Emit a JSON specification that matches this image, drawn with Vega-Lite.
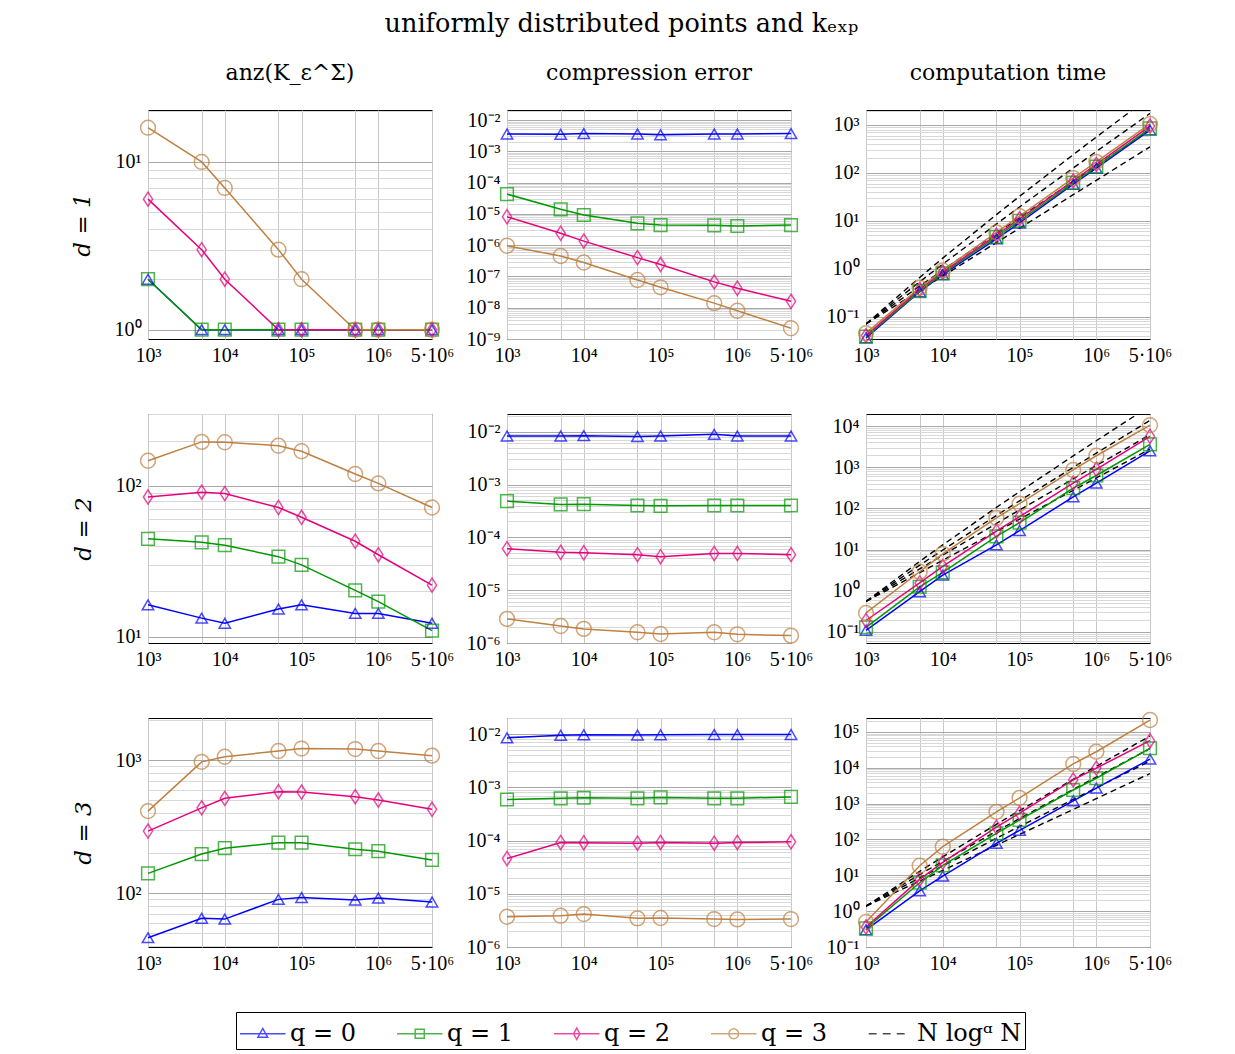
{
"$schema":"https://vega.github.io/schema/vega-lite/v6.json",
"padding":{"left":70,"top":12,"right":10,"bottom":5},
"title":{"text":"uniformly distributed points and kₑₓₚ","font":"DejaVu Serif","fontSize":25.5,"fontWeight":"normal","anchor":"middle","offset":24,"color":"black"},
"datasets":{"main":[
{"d":1,"m":"a","q":0,"N":1000,"v":2},{"d":1,"m":"a","q":0,"N":5000,"v":1},{"d":1,"m":"a","q":0,"N":10000,"v":1},{"d":1,"m":"a","q":0,"N":50000,"v":1},{"d":1,"m":"a","q":0,"N":100000,"v":1},{"d":1,"m":"a","q":0,"N":500000,"v":1},{"d":1,"m":"a","q":0,"N":1000000,"v":1},{"d":1,"m":"a","q":0,"N":5000000,"v":1},
{"d":1,"m":"a","q":1,"N":1000,"v":2},{"d":1,"m":"a","q":1,"N":5000,"v":1},{"d":1,"m":"a","q":1,"N":10000,"v":1},{"d":1,"m":"a","q":1,"N":50000,"v":1},{"d":1,"m":"a","q":1,"N":100000,"v":1},{"d":1,"m":"a","q":1,"N":500000,"v":1},{"d":1,"m":"a","q":1,"N":1000000,"v":1},{"d":1,"m":"a","q":1,"N":5000000,"v":1},
{"d":1,"m":"a","q":2,"N":1000,"v":6},{"d":1,"m":"a","q":2,"N":5000,"v":3},{"d":1,"m":"a","q":2,"N":10000,"v":2},{"d":1,"m":"a","q":2,"N":50000,"v":1},{"d":1,"m":"a","q":2,"N":100000,"v":1},{"d":1,"m":"a","q":2,"N":500000,"v":1},{"d":1,"m":"a","q":2,"N":1000000,"v":1},{"d":1,"m":"a","q":2,"N":5000000,"v":1},
{"d":1,"m":"a","q":3,"N":1000,"v":16},{"d":1,"m":"a","q":3,"N":5000,"v":10},{"d":1,"m":"a","q":3,"N":10000,"v":7},{"d":1,"m":"a","q":3,"N":50000,"v":3},{"d":1,"m":"a","q":3,"N":100000,"v":2},{"d":1,"m":"a","q":3,"N":500000,"v":1},{"d":1,"m":"a","q":3,"N":1000000,"v":1},{"d":1,"m":"a","q":3,"N":5000000,"v":1},
{"d":1,"m":"e","q":0,"N":1000,"v":3.6e-3},{"d":1,"m":"e","q":0,"N":5000,"v":3.5e-3},{"d":1,"m":"e","q":0,"N":10000,"v":3.7e-3},{"d":1,"m":"e","q":0,"N":50000,"v":3.6e-3},{"d":1,"m":"e","q":0,"N":100000,"v":3.4e-3},{"d":1,"m":"e","q":0,"N":500000,"v":3.6e-3},{"d":1,"m":"e","q":0,"N":1000000,"v":3.6e-3},{"d":1,"m":"e","q":0,"N":5000000,"v":3.7e-3},
{"d":1,"m":"e","q":1,"N":1000,"v":4.3e-5},{"d":1,"m":"e","q":1,"N":5000,"v":1.4e-5},{"d":1,"m":"e","q":1,"N":10000,"v":9.2e-6},{"d":1,"m":"e","q":1,"N":50000,"v":5.0e-6},{"d":1,"m":"e","q":1,"N":100000,"v":4.4e-6},{"d":1,"m":"e","q":1,"N":500000,"v":4.3e-6},{"d":1,"m":"e","q":1,"N":1000000,"v":4.1e-6},{"d":1,"m":"e","q":1,"N":5000000,"v":4.4e-6},
{"d":1,"m":"e","q":2,"N":1000,"v":8.1e-6},{"d":1,"m":"e","q":2,"N":5000,"v":2.4e-6},{"d":1,"m":"e","q":2,"N":10000,"v":1.35e-6},{"d":1,"m":"e","q":2,"N":50000,"v":4.0e-7},{"d":1,"m":"e","q":2,"N":100000,"v":2.4e-7},{"d":1,"m":"e","q":2,"N":500000,"v":6.7e-8},{"d":1,"m":"e","q":2,"N":1000000,"v":4.2e-8},{"d":1,"m":"e","q":2,"N":5000000,"v":1.6e-8},
{"d":1,"m":"e","q":3,"N":1000,"v":9.6e-7},{"d":1,"m":"e","q":3,"N":5000,"v":4.5e-7},{"d":1,"m":"e","q":3,"N":10000,"v":2.8e-7},{"d":1,"m":"e","q":3,"N":50000,"v":7.7e-8},{"d":1,"m":"e","q":3,"N":100000,"v":4.5e-8},{"d":1,"m":"e","q":3,"N":500000,"v":1.4e-8},{"d":1,"m":"e","q":3,"N":1000000,"v":8e-9},{"d":1,"m":"e","q":3,"N":5000000,"v":2.2e-9},
{"d":1,"m":"t","q":0,"N":1000,"v":0.036},{"d":1,"m":"t","q":0,"N":5000,"v":0.33},{"d":1,"m":"t","q":0,"N":10000,"v":0.75},{"d":1,"m":"t","q":0,"N":50000,"v":4.2},{"d":1,"m":"t","q":0,"N":100000,"v":9.0},{"d":1,"m":"t","q":0,"N":500000,"v":58},{"d":1,"m":"t","q":0,"N":1000000,"v":125},{"d":1,"m":"t","q":0,"N":5000000,"v":780},
{"d":1,"m":"t","q":1,"N":1000,"v":0.038},{"d":1,"m":"t","q":1,"N":5000,"v":0.34},{"d":1,"m":"t","q":1,"N":10000,"v":0.80},{"d":1,"m":"t","q":1,"N":50000,"v":4.6},{"d":1,"m":"t","q":1,"N":100000,"v":10},{"d":1,"m":"t","q":1,"N":500000,"v":62},{"d":1,"m":"t","q":1,"N":1000000,"v":135},{"d":1,"m":"t","q":1,"N":5000000,"v":850},
{"d":1,"m":"t","q":2,"N":1000,"v":0.040},{"d":1,"m":"t","q":2,"N":5000,"v":0.37},{"d":1,"m":"t","q":2,"N":10000,"v":0.85},{"d":1,"m":"t","q":2,"N":50000,"v":5.0},{"d":1,"m":"t","q":2,"N":100000,"v":11},{"d":1,"m":"t","q":2,"N":500000,"v":68},{"d":1,"m":"t","q":2,"N":1000000,"v":150},{"d":1,"m":"t","q":2,"N":5000000,"v":950},
{"d":1,"m":"t","q":3,"N":1000,"v":0.045},{"d":1,"m":"t","q":3,"N":5000,"v":0.40},{"d":1,"m":"t","q":3,"N":10000,"v":0.92},{"d":1,"m":"t","q":3,"N":50000,"v":5.7},{"d":1,"m":"t","q":3,"N":100000,"v":12.5},{"d":1,"m":"t","q":3,"N":500000,"v":78},{"d":1,"m":"t","q":3,"N":1000000,"v":170},{"d":1,"m":"t","q":3,"N":5000000,"v":1050},
{"d":1,"m":"t","q":4,"a":0,"N":1000,"v":0.07},{"d":1,"m":"t","q":4,"a":0,"N":5000,"v":0.35},{"d":1,"m":"t","q":4,"a":0,"N":10000,"v":0.7},{"d":1,"m":"t","q":4,"a":0,"N":50000,"v":3.5},{"d":1,"m":"t","q":4,"a":0,"N":100000,"v":7},{"d":1,"m":"t","q":4,"a":0,"N":500000,"v":35},{"d":1,"m":"t","q":4,"a":0,"N":1000000,"v":70},{"d":1,"m":"t","q":4,"a":0,"N":5000000,"v":350},
{"d":1,"m":"t","q":4,"a":1,"N":1000,"v":0.07},{"d":1,"m":"t","q":4,"a":1,"N":5000,"v":0.4316},{"d":1,"m":"t","q":4,"a":1,"N":10000,"v":0.9333},{"d":1,"m":"t","q":4,"a":1,"N":50000,"v":5.482},{"d":1,"m":"t","q":4,"a":1,"N":100000,"v":11.667},{"d":1,"m":"t","q":4,"a":1,"N":500000,"v":66.49},{"d":1,"m":"t","q":4,"a":1,"N":1000000,"v":140},{"d":1,"m":"t","q":4,"a":1,"N":5000000,"v":781.5},
{"d":1,"m":"t","q":4,"a":2,"N":1000,"v":0.07},{"d":1,"m":"t","q":4,"a":2,"N":5000,"v":0.5321},{"d":1,"m":"t","q":4,"a":2,"N":10000,"v":1.2444},{"d":1,"m":"t","q":4,"a":2,"N":50000,"v":8.586},{"d":1,"m":"t","q":4,"a":2,"N":100000,"v":19.444},{"d":1,"m":"t","q":4,"a":2,"N":500000,"v":126.3},{"d":1,"m":"t","q":4,"a":2,"N":1000000,"v":280},{"d":1,"m":"t","q":4,"a":2,"N":5000000,"v":1745},
{"d":1,"m":"t","q":4,"a":3,"N":1000,"v":0.07},{"d":1,"m":"t","q":4,"a":3,"N":5000,"v":0.6561},{"d":1,"m":"t","q":4,"a":3,"N":10000,"v":1.6593},{"d":1,"m":"t","q":4,"a":3,"N":50000,"v":13.449},{"d":1,"m":"t","q":4,"a":3,"N":100000,"v":32.407},{"d":1,"m":"t","q":4,"a":3,"N":500000,"v":240.0},{"d":1,"m":"t","q":4,"a":3,"N":1000000,"v":560},{"d":1,"m":"t","q":4,"a":3,"N":5000000,"v":3897},
{"d":2,"m":"a","q":0,"N":1000,"v":16.3},{"d":2,"m":"a","q":0,"N":5000,"v":13.3},{"d":2,"m":"a","q":0,"N":10000,"v":12.3},{"d":2,"m":"a","q":0,"N":50000,"v":15.3},{"d":2,"m":"a","q":0,"N":100000,"v":16.3},{"d":2,"m":"a","q":0,"N":500000,"v":14.3},{"d":2,"m":"a","q":0,"N":1000000,"v":14.3},{"d":2,"m":"a","q":0,"N":5000000,"v":12.3},
{"d":2,"m":"a","q":1,"N":1000,"v":44.6},{"d":2,"m":"a","q":1,"N":5000,"v":42.3},{"d":2,"m":"a","q":1,"N":10000,"v":40.5},{"d":2,"m":"a","q":1,"N":50000,"v":34},{"d":2,"m":"a","q":1,"N":100000,"v":30},{"d":2,"m":"a","q":1,"N":500000,"v":20.3},{"d":2,"m":"a","q":1,"N":1000000,"v":17.1},{"d":2,"m":"a","q":1,"N":5000000,"v":11},
{"d":2,"m":"a","q":2,"N":1000,"v":84.5},{"d":2,"m":"a","q":2,"N":5000,"v":91},{"d":2,"m":"a","q":2,"N":10000,"v":89},{"d":2,"m":"a","q":2,"N":50000,"v":72},{"d":2,"m":"a","q":2,"N":100000,"v":62},{"d":2,"m":"a","q":2,"N":500000,"v":43},{"d":2,"m":"a","q":2,"N":1000000,"v":35},{"d":2,"m":"a","q":2,"N":5000000,"v":22},
{"d":2,"m":"a","q":3,"N":1000,"v":147},{"d":2,"m":"a","q":3,"N":5000,"v":196},{"d":2,"m":"a","q":3,"N":10000,"v":195},{"d":2,"m":"a","q":3,"N":50000,"v":185},{"d":2,"m":"a","q":3,"N":100000,"v":170},{"d":2,"m":"a","q":3,"N":500000,"v":120},{"d":2,"m":"a","q":3,"N":1000000,"v":104},{"d":2,"m":"a","q":3,"N":5000000,"v":72},
{"d":2,"m":"e","q":0,"N":1000,"v":8.3e-3},{"d":2,"m":"e","q":0,"N":5000,"v":8.3e-3},{"d":2,"m":"e","q":0,"N":10000,"v":8.4e-3},{"d":2,"m":"e","q":0,"N":50000,"v":8.1e-3},{"d":2,"m":"e","q":0,"N":100000,"v":8.3e-3},{"d":2,"m":"e","q":0,"N":500000,"v":8.9e-3},{"d":2,"m":"e","q":0,"N":1000000,"v":8.3e-3},{"d":2,"m":"e","q":0,"N":5000000,"v":8.3e-3},
{"d":2,"m":"e","q":1,"N":1000,"v":4.85e-4},{"d":2,"m":"e","q":1,"N":5000,"v":4.2e-4},{"d":2,"m":"e","q":1,"N":10000,"v":4.25e-4},{"d":2,"m":"e","q":1,"N":50000,"v":4.0e-4},{"d":2,"m":"e","q":1,"N":100000,"v":3.95e-4},{"d":2,"m":"e","q":1,"N":500000,"v":4.0e-4},{"d":2,"m":"e","q":1,"N":1000000,"v":4.0e-4},{"d":2,"m":"e","q":1,"N":5000000,"v":4.0e-4},
{"d":2,"m":"e","q":2,"N":1000,"v":6.1e-5},{"d":2,"m":"e","q":2,"N":5000,"v":5.2e-5},{"d":2,"m":"e","q":2,"N":10000,"v":5.1e-5},{"d":2,"m":"e","q":2,"N":50000,"v":4.7e-5},{"d":2,"m":"e","q":2,"N":100000,"v":4.3e-5},{"d":2,"m":"e","q":2,"N":500000,"v":4.95e-5},{"d":2,"m":"e","q":2,"N":1000000,"v":4.95e-5},{"d":2,"m":"e","q":2,"N":5000000,"v":4.7e-5},
{"d":2,"m":"e","q":3,"N":1000,"v":2.86e-6},{"d":2,"m":"e","q":3,"N":5000,"v":2.1e-6},{"d":2,"m":"e","q":3,"N":10000,"v":1.85e-6},{"d":2,"m":"e","q":3,"N":50000,"v":1.6e-6},{"d":2,"m":"e","q":3,"N":100000,"v":1.48e-6},{"d":2,"m":"e","q":3,"N":500000,"v":1.6e-6},{"d":2,"m":"e","q":3,"N":1000000,"v":1.46e-6},{"d":2,"m":"e","q":3,"N":5000000,"v":1.38e-6},
{"d":2,"m":"t","q":0,"N":1000,"v":0.11},{"d":2,"m":"t","q":0,"N":5000,"v":0.95},{"d":2,"m":"t","q":0,"N":10000,"v":2.4},{"d":2,"m":"t","q":0,"N":50000,"v":13},{"d":2,"m":"t","q":0,"N":100000,"v":29},{"d":2,"m":"t","q":0,"N":500000,"v":190},{"d":2,"m":"t","q":0,"N":1000000,"v":410},{"d":2,"m":"t","q":0,"N":5000000,"v":2500},
{"d":2,"m":"t","q":1,"N":1000,"v":0.13},{"d":2,"m":"t","q":1,"N":5000,"v":1.25},{"d":2,"m":"t","q":1,"N":10000,"v":2.8},{"d":2,"m":"t","q":1,"N":50000,"v":21},{"d":2,"m":"t","q":1,"N":100000,"v":45},{"d":2,"m":"t","q":1,"N":500000,"v":310},{"d":2,"m":"t","q":1,"N":1000000,"v":630},{"d":2,"m":"t","q":1,"N":5000000,"v":3600},
{"d":2,"m":"t","q":2,"N":1000,"v":0.19},{"d":2,"m":"t","q":2,"N":5000,"v":1.55},{"d":2,"m":"t","q":2,"N":10000,"v":3.9},{"d":2,"m":"t","q":2,"N":50000,"v":28},{"d":2,"m":"t","q":2,"N":100000,"v":63},{"d":2,"m":"t","q":2,"N":500000,"v":410},{"d":2,"m":"t","q":2,"N":1000000,"v":890},{"d":2,"m":"t","q":2,"N":5000000,"v":5600},
{"d":2,"m":"t","q":3,"N":1000,"v":0.29},{"d":2,"m":"t","q":3,"N":5000,"v":2.9},{"d":2,"m":"t","q":3,"N":10000,"v":7.9},{"d":2,"m":"t","q":3,"N":50000,"v":59},{"d":2,"m":"t","q":3,"N":100000,"v":130},{"d":2,"m":"t","q":3,"N":500000,"v":860},{"d":2,"m":"t","q":3,"N":1000000,"v":1900},{"d":2,"m":"t","q":3,"N":5000000,"v":10500},
{"d":2,"m":"t","q":4,"a":0,"N":1000,"v":0.55},{"d":2,"m":"t","q":4,"a":0,"N":5000,"v":2.75},{"d":2,"m":"t","q":4,"a":0,"N":10000,"v":5.5},{"d":2,"m":"t","q":4,"a":0,"N":50000,"v":27.5},{"d":2,"m":"t","q":4,"a":0,"N":100000,"v":55},{"d":2,"m":"t","q":4,"a":0,"N":500000,"v":275},{"d":2,"m":"t","q":4,"a":0,"N":1000000,"v":550},{"d":2,"m":"t","q":4,"a":0,"N":5000000,"v":2750},
{"d":2,"m":"t","q":4,"a":1,"N":1000,"v":0.55},{"d":2,"m":"t","q":4,"a":1,"N":5000,"v":3.391},{"d":2,"m":"t","q":4,"a":1,"N":10000,"v":7.333},{"d":2,"m":"t","q":4,"a":1,"N":50000,"v":43.07},{"d":2,"m":"t","q":4,"a":1,"N":100000,"v":91.67},{"d":2,"m":"t","q":4,"a":1,"N":500000,"v":522.4},{"d":2,"m":"t","q":4,"a":1,"N":1000000,"v":1100},{"d":2,"m":"t","q":4,"a":1,"N":5000000,"v":6141},
{"d":2,"m":"t","q":4,"a":2,"N":1000,"v":0.55},{"d":2,"m":"t","q":4,"a":2,"N":5000,"v":4.181},{"d":2,"m":"t","q":4,"a":2,"N":10000,"v":9.778},{"d":2,"m":"t","q":4,"a":2,"N":50000,"v":67.46},{"d":2,"m":"t","q":4,"a":2,"N":100000,"v":152.8},{"d":2,"m":"t","q":4,"a":2,"N":500000,"v":992.4},{"d":2,"m":"t","q":4,"a":2,"N":1000000,"v":2200},{"d":2,"m":"t","q":4,"a":2,"N":5000000,"v":13712},
{"d":2,"m":"t","q":4,"a":3,"N":1000,"v":0.55},{"d":2,"m":"t","q":4,"a":3,"N":5000,"v":5.155},{"d":2,"m":"t","q":4,"a":3,"N":10000,"v":13.037},{"d":2,"m":"t","q":4,"a":3,"N":50000,"v":105.67},{"d":2,"m":"t","q":4,"a":3,"N":100000,"v":254.6},{"d":2,"m":"t","q":4,"a":3,"N":500000,"v":1885},{"d":2,"m":"t","q":4,"a":3,"N":1000000,"v":4400},{"d":2,"m":"t","q":4,"a":3,"N":5000000,"v":30620},
{"d":3,"m":"a","q":0,"N":1000,"v":46.4},{"d":3,"m":"a","q":0,"N":5000,"v":65},{"d":3,"m":"a","q":0,"N":10000,"v":64},{"d":3,"m":"a","q":0,"N":50000,"v":90},{"d":3,"m":"a","q":0,"N":100000,"v":93},{"d":3,"m":"a","q":0,"N":500000,"v":89},{"d":3,"m":"a","q":0,"N":1000000,"v":92},{"d":3,"m":"a","q":0,"N":5000000,"v":86},
{"d":3,"m":"a","q":1,"N":1000,"v":141},{"d":3,"m":"a","q":1,"N":5000,"v":197},{"d":3,"m":"a","q":1,"N":10000,"v":218},{"d":3,"m":"a","q":1,"N":50000,"v":240},{"d":3,"m":"a","q":1,"N":100000,"v":240},{"d":3,"m":"a","q":1,"N":500000,"v":214},{"d":3,"m":"a","q":1,"N":1000000,"v":207},{"d":3,"m":"a","q":1,"N":5000000,"v":178},
{"d":3,"m":"a","q":2,"N":1000,"v":293},{"d":3,"m":"a","q":2,"N":5000,"v":438},{"d":3,"m":"a","q":2,"N":10000,"v":516},{"d":3,"m":"a","q":2,"N":50000,"v":579},{"d":3,"m":"a","q":2,"N":100000,"v":575},{"d":3,"m":"a","q":2,"N":500000,"v":531},{"d":3,"m":"a","q":2,"N":1000000,"v":501},{"d":3,"m":"a","q":2,"N":5000000,"v":427},
{"d":3,"m":"a","q":3,"N":1000,"v":414},{"d":3,"m":"a","q":3,"N":5000,"v":970},{"d":3,"m":"a","q":3,"N":10000,"v":1060},{"d":3,"m":"a","q":3,"N":50000,"v":1170},{"d":3,"m":"a","q":3,"N":100000,"v":1220},{"d":3,"m":"a","q":3,"N":500000,"v":1210},{"d":3,"m":"a","q":3,"N":1000000,"v":1170},{"d":3,"m":"a","q":3,"N":5000000,"v":1080},
{"d":3,"m":"e","q":0,"N":1000,"v":8.45e-3},{"d":3,"m":"e","q":0,"N":5000,"v":9.5e-3},{"d":3,"m":"e","q":0,"N":10000,"v":9.7e-3},{"d":3,"m":"e","q":0,"N":50000,"v":9.6e-3},{"d":3,"m":"e","q":0,"N":100000,"v":9.7e-3},{"d":3,"m":"e","q":0,"N":500000,"v":9.8e-3},{"d":3,"m":"e","q":0,"N":1000000,"v":9.8e-3},{"d":3,"m":"e","q":0,"N":5000000,"v":9.8e-3},
{"d":3,"m":"e","q":1,"N":1000,"v":5.9e-4},{"d":3,"m":"e","q":1,"N":5000,"v":6.2e-4},{"d":3,"m":"e","q":1,"N":10000,"v":6.35e-4},{"d":3,"m":"e","q":1,"N":50000,"v":6.2e-4},{"d":3,"m":"e","q":1,"N":100000,"v":6.45e-4},{"d":3,"m":"e","q":1,"N":500000,"v":6.2e-4},{"d":3,"m":"e","q":1,"N":1000000,"v":6.2e-4},{"d":3,"m":"e","q":1,"N":5000000,"v":6.6e-4},
{"d":3,"m":"e","q":2,"N":1000,"v":4.6e-5},{"d":3,"m":"e","q":2,"N":5000,"v":9.2e-5},{"d":3,"m":"e","q":2,"N":10000,"v":9.1e-5},{"d":3,"m":"e","q":2,"N":50000,"v":8.9e-5},{"d":3,"m":"e","q":2,"N":100000,"v":9.2e-5},{"d":3,"m":"e","q":2,"N":500000,"v":8.9e-5},{"d":3,"m":"e","q":2,"N":1000000,"v":9.2e-5},{"d":3,"m":"e","q":2,"N":5000000,"v":9.45e-5},
{"d":3,"m":"e","q":3,"N":1000,"v":3.7e-6},{"d":3,"m":"e","q":3,"N":5000,"v":3.87e-6},{"d":3,"m":"e","q":3,"N":10000,"v":4.15e-6},{"d":3,"m":"e","q":3,"N":50000,"v":3.45e-6},{"d":3,"m":"e","q":3,"N":100000,"v":3.5e-6},{"d":3,"m":"e","q":3,"N":500000,"v":3.35e-6},{"d":3,"m":"e","q":3,"N":1000000,"v":3.3e-6},{"d":3,"m":"e","q":3,"N":5000000,"v":3.35e-6},
{"d":3,"m":"t","q":0,"N":1000,"v":0.30},{"d":3,"m":"t","q":0,"N":5000,"v":3.7},{"d":3,"m":"t","q":0,"N":10000,"v":9.5},{"d":3,"m":"t","q":0,"N":50000,"v":78},{"d":3,"m":"t","q":0,"N":100000,"v":180},{"d":3,"m":"t","q":0,"N":500000,"v":1200},{"d":3,"m":"t","q":0,"N":1000000,"v":2700},{"d":3,"m":"t","q":0,"N":5000000,"v":17500},
{"d":3,"m":"t","q":1,"N":1000,"v":0.33},{"d":3,"m":"t","q":1,"N":5000,"v":6.2},{"d":3,"m":"t","q":1,"N":10000,"v":19},{"d":3,"m":"t","q":1,"N":50000,"v":148},{"d":3,"m":"t","q":1,"N":100000,"v":350},{"d":3,"m":"t","q":1,"N":500000,"v":2400},{"d":3,"m":"t","q":1,"N":1000000,"v":5100},{"d":3,"m":"t","q":1,"N":5000000,"v":35000},
{"d":3,"m":"t","q":2,"N":1000,"v":0.36},{"d":3,"m":"t","q":2,"N":5000,"v":7.7},{"d":3,"m":"t","q":2,"N":10000,"v":23},{"d":3,"m":"t","q":2,"N":50000,"v":220},{"d":3,"m":"t","q":2,"N":100000,"v":540},{"d":3,"m":"t","q":2,"N":500000,"v":4600},{"d":3,"m":"t","q":2,"N":1000000,"v":9800},{"d":3,"m":"t","q":2,"N":5000000,"v":57000},
{"d":3,"m":"t","q":3,"N":1000,"v":0.50},{"d":3,"m":"t","q":3,"N":5000,"v":18.5},{"d":3,"m":"t","q":3,"N":10000,"v":63},{"d":3,"m":"t","q":3,"N":50000,"v":590},{"d":3,"m":"t","q":3,"N":100000,"v":1450},{"d":3,"m":"t","q":3,"N":500000,"v":12800},{"d":3,"m":"t","q":3,"N":1000000,"v":28000},{"d":3,"m":"t","q":3,"N":5000000,"v":215000},
{"d":3,"m":"t","q":4,"a":0,"N":1000,"v":1.38},{"d":3,"m":"t","q":4,"a":0,"N":5000,"v":6.9},{"d":3,"m":"t","q":4,"a":0,"N":10000,"v":13.8},{"d":3,"m":"t","q":4,"a":0,"N":50000,"v":69},{"d":3,"m":"t","q":4,"a":0,"N":100000,"v":138},{"d":3,"m":"t","q":4,"a":0,"N":500000,"v":690},{"d":3,"m":"t","q":4,"a":0,"N":1000000,"v":1380},{"d":3,"m":"t","q":4,"a":0,"N":5000000,"v":6900},
{"d":3,"m":"t","q":4,"a":1,"N":1000,"v":1.38},{"d":3,"m":"t","q":4,"a":1,"N":5000,"v":8.508},{"d":3,"m":"t","q":4,"a":1,"N":10000,"v":18.4},{"d":3,"m":"t","q":4,"a":1,"N":50000,"v":108.1},{"d":3,"m":"t","q":4,"a":1,"N":100000,"v":230},{"d":3,"m":"t","q":4,"a":1,"N":500000,"v":1310.8},{"d":3,"m":"t","q":4,"a":1,"N":1000000,"v":2760},{"d":3,"m":"t","q":4,"a":1,"N":5000000,"v":15408},
{"d":3,"m":"t","q":4,"a":2,"N":1000,"v":1.38},{"d":3,"m":"t","q":4,"a":2,"N":5000,"v":10.49},{"d":3,"m":"t","q":4,"a":2,"N":10000,"v":24.53},{"d":3,"m":"t","q":4,"a":2,"N":50000,"v":169.3},{"d":3,"m":"t","q":4,"a":2,"N":100000,"v":383.3},{"d":3,"m":"t","q":4,"a":2,"N":500000,"v":2490},{"d":3,"m":"t","q":4,"a":2,"N":1000000,"v":5520},{"d":3,"m":"t","q":4,"a":2,"N":5000000,"v":34405},
{"d":3,"m":"t","q":4,"a":3,"N":1000,"v":1.38},{"d":3,"m":"t","q":4,"a":3,"N":5000,"v":12.93},{"d":3,"m":"t","q":4,"a":3,"N":10000,"v":32.71},{"d":3,"m":"t","q":4,"a":3,"N":50000,"v":265.1},{"d":3,"m":"t","q":4,"a":3,"N":100000,"v":638.9},{"d":3,"m":"t","q":4,"a":3,"N":500000,"v":4731},{"d":3,"m":"t","q":4,"a":3,"N":1000000,"v":11040},{"d":3,"m":"t","q":4,"a":3,"N":5000000,"v":76827}
]},
"columns":3,
"spacing":{"row":75,"column":75},
"bounds":"flush",
"concat":[
{"width":284,"height":229,"title":{"text":"anz(K_ε^Σ)"},
 "data":{"name":"main"},"transform":[{"filter":"datum.d==1 && datum.m=='a'"}],
 "encoding":{"x":{"field":"N","type":"quantitative","scale":{"type":"log","domain":[1000,5000000],"nice":false},"axis":{"values":[1000,5000,10000,50000,100000,500000,1000000,5000000],"labelExpr":"datum.value == 5000000 ? '5·10⁶' : datum.value == 1000 ? '10³' : datum.value == 10000 ? '10⁴' : datum.value == 100000 ? '10⁵' : datum.value == 1000000 ? '10⁶' : ''","grid":true,"labelOverlap":false,"labelFlush":false,"labelPadding":6,"title":null}},
  "y":{"field":"v","type":"quantitative","scale":{"type":"log","domain":[0.88,20.4],"nice":false},"axis":null},
  "color":{"field":"q","type":"nominal","scale":{"domain":[0,1,2,3,4]}}},
 "layer":[
  {"transform":[{"filter":"false"}],"mark":{"type":"point","filled":false,"size":1225,"strokeWidth":1.5},
   "encoding":{"color":{"field":"q","type":"nominal","scale":{"domain":[0,1,2,3,4]},"legend":{"title":null,"orient":"none","legendX":88,"legendY":902,"direction":"horizontal","columns":5,"symbolSize":1225,"symbolStrokeWidth":1.5,"labelFont":"DejaVu Serif","labelFontSize":24,"labelOffset":14,"columnPadding":38,"padding":3,"strokeColor":"black","fillColor":"white","labelColor":"black","labelExpr":"datum.value == 4 ? 'N logᵅ N' : 'q = ' + datum.value"}},
    "shape":{"field":"q","type":"nominal","scale":{"domain":[0,1,2,3,4],"range":["M-1,0H1.6M0.02,0.2L0.3,-0.3L0.58,0.2Z","M-1,0H1.6M0.04,-0.26H0.56V0.26H0.04Z","M-1,0H1.6M0.3,-0.32L0.48,0L0.3,0.32L0.12,0Z","M-1,0H1.6M0.58,0A0.28,0.28,0,1,1,0.02,0A0.28,0.28,0,1,1,0.58,0Z","M-0.9,0H-0.45M-0.1,0H0.35M0.7,0H1.15"]},"legend":{"title":null,"orient":"none","legendX":88,"legendY":902,"direction":"horizontal","columns":5,"symbolSize":1225,"symbolStrokeWidth":1.5,"labelFont":"DejaVu Serif","labelFontSize":24,"labelOffset":14,"columnPadding":38,"padding":3,"strokeColor":"black","fillColor":"white","labelColor":"black","labelExpr":"datum.value == 4 ? 'N logᵅ N' : 'q = ' + datum.value"}}}},
  {"transform":[{"filter":"datum.q<4"}],"mark":{"type":"line","strokeWidth":1.5},
   "encoding":{"y":{"field":"v","type":"quantitative","scale":{"type":"log","domain":[0.88,20.4],"nice":false},"axis":{"orient":"left","values":[1,10],"labelExpr":"'10' + ['⁻⁹','⁻⁸','⁻⁷','⁻⁶','⁻⁵','⁻⁴','⁻³','⁻²','⁻¹','⁰','¹','²','³','⁴','⁵'][round(log(datum.value)/LN10)+9]","grid":true,"gridColor":"#a8a8a8","labelPadding":7,"title":"d = 1"}}}},
  {"transform":[{"filter":"datum.q==0"}],"mark":{"type":"point","shape":"triangle-up","filled":false,"size":130,"strokeWidth":1.5},
   "encoding":{"y":{"field":"v","type":"quantitative","scale":{"type":"log","domain":[0.88,20.4],"nice":false},"axis":{"orient":"right","values":[2,3,4,5,6,7,8,9,20],"labels":false,"ticks":false,"domain":false,"grid":true,"gridColor":"#d8d8d8","title":null}}}},
  {"transform":[{"filter":"datum.q==1"}],"mark":{"type":"point","shape":"square","filled":false,"size":160,"strokeWidth":1.5}},
  {"transform":[{"filter":"datum.q==2"}],"mark":{"type":"point","shape":"M0,-1L0.65,0L0,1L-0.65,0Z","filled":false,"size":200,"strokeWidth":1.5}},
  {"transform":[{"filter":"datum.q==3"}],"mark":{"type":"point","shape":"circle","filled":false,"size":220,"strokeWidth":1.5}}
 ]},
{"width":284,"height":229,"title":{"text":"compression error"},
 "data":{"name":"main"},"transform":[{"filter":"datum.d==1 && datum.m=='e'"}],
 "encoding":{"x":{"field":"N","type":"quantitative","scale":{"type":"log","domain":[1000,5000000],"nice":false},"axis":{"values":[1000,5000,10000,50000,100000,500000,1000000,5000000],"labelExpr":"datum.value == 5000000 ? '5·10⁶' : datum.value == 1000 ? '10³' : datum.value == 10000 ? '10⁴' : datum.value == 100000 ? '10⁵' : datum.value == 1000000 ? '10⁶' : ''","grid":true,"labelOverlap":false,"labelFlush":false,"labelPadding":6,"title":null}},
  "y":{"field":"v","type":"quantitative","scale":{"type":"log","domain":[1e-9,0.021],"nice":false},"axis":null},
  "color":{"field":"q","type":"nominal","scale":{"domain":[0,1,2,3,4]}}},
 "layer":[
  {"transform":[{"filter":"datum.q<4"}],"mark":{"type":"line","strokeWidth":1.5},
   "encoding":{"y":{"field":"v","type":"quantitative","scale":{"type":"log","domain":[1e-9,0.021],"nice":false},"axis":{"orient":"left","values":[1e-9,1e-8,1e-7,1e-6,1e-5,1e-4,1e-3,1e-2],"labelExpr":"'10' + ['⁻⁹','⁻⁸','⁻⁷','⁻⁶','⁻⁵','⁻⁴','⁻³','⁻²','⁻¹','⁰','¹','²','³','⁴','⁵'][round(log(datum.value)/LN10)+9]","grid":true,"gridColor":"#a8a8a8","labelPadding":7,"title":null}}}},
  {"transform":[{"filter":"datum.q==0"}],"mark":{"type":"point","shape":"triangle-up","filled":false,"size":130,"strokeWidth":1.5},
   "encoding":{"y":{"field":"v","type":"quantitative","scale":{"type":"log","domain":[1e-9,0.021],"nice":false},"axis":{"orient":"right","values":[2e-9,3e-9,4e-9,5e-9,6e-9,7e-9,8e-9,9e-9,2e-8,3e-8,4e-8,5e-8,6e-8,7e-8,8e-8,9e-8,2e-7,3e-7,4e-7,5e-7,6e-7,7e-7,8e-7,9e-7,2e-6,3e-6,4e-6,5e-6,6e-6,7e-6,8e-6,9e-6,2e-5,3e-5,4e-5,5e-5,6e-5,7e-5,8e-5,9e-5,2e-4,3e-4,4e-4,5e-4,6e-4,7e-4,8e-4,9e-4,2e-3,3e-3,4e-3,5e-3,6e-3,7e-3,8e-3,9e-3,2e-2],"labels":false,"ticks":false,"domain":false,"grid":true,"gridColor":"#d8d8d8","title":null}}}},
  {"transform":[{"filter":"datum.q==1"}],"mark":{"type":"point","shape":"square","filled":false,"size":160,"strokeWidth":1.5}},
  {"transform":[{"filter":"datum.q==2"}],"mark":{"type":"point","shape":"M0,-1L0.65,0L0,1L-0.65,0Z","filled":false,"size":200,"strokeWidth":1.5}},
  {"transform":[{"filter":"datum.q==3"}],"mark":{"type":"point","shape":"circle","filled":false,"size":220,"strokeWidth":1.5}}
 ]},
{"width":284,"height":229,"title":{"text":"computation time"},
 "data":{"name":"main"},"transform":[{"filter":"datum.d==1 && datum.m=='t'"}],
 "encoding":{"x":{"field":"N","type":"quantitative","scale":{"type":"log","domain":[1000,5000000],"nice":false},"axis":{"values":[1000,5000,10000,50000,100000,500000,1000000,5000000],"labelExpr":"datum.value == 5000000 ? '5·10⁶' : datum.value == 1000 ? '10³' : datum.value == 10000 ? '10⁴' : datum.value == 100000 ? '10⁵' : datum.value == 1000000 ? '10⁶' : ''","grid":true,"labelOverlap":false,"labelFlush":false,"labelPadding":6,"title":null}},
  "y":{"field":"v","type":"quantitative","scale":{"type":"log","domain":[0.034,2055],"nice":false},"axis":null},
  "color":{"field":"q","type":"nominal","scale":{"domain":[0,1,2,3,4]}}},
 "layer":[
  {"transform":[{"filter":"datum.q==4"}],"mark":{"type":"line","strokeWidth":1.4,"strokeDash":[6,4],"clip":true},"encoding":{"detail":{"field":"a","type":"nominal"},"color":{"value":"black"}}},
  {"transform":[{"filter":"datum.q<4"}],"mark":{"type":"line","strokeWidth":1.5},
   "encoding":{"y":{"field":"v","type":"quantitative","scale":{"type":"log","domain":[0.034,2055],"nice":false},"axis":{"orient":"left","values":[0.1,1,10,100,1000],"labelExpr":"'10' + ['⁻⁹','⁻⁸','⁻⁷','⁻⁶','⁻⁵','⁻⁴','⁻³','⁻²','⁻¹','⁰','¹','²','³','⁴','⁵'][round(log(datum.value)/LN10)+9]","grid":true,"gridColor":"#a8a8a8","labelPadding":7,"title":null}}}},
  {"transform":[{"filter":"datum.q==0"}],"mark":{"type":"point","shape":"triangle-up","filled":false,"size":130,"strokeWidth":1.5},
   "encoding":{"y":{"field":"v","type":"quantitative","scale":{"type":"log","domain":[0.034,2055],"nice":false},"axis":{"orient":"right","values":[0.04,0.05,0.06,0.07,0.08,0.09,0.2,0.3,0.4,0.5,0.6,0.7,0.8,0.9,2,3,4,5,6,7,8,9,20,30,40,50,60,70,80,90,200,300,400,500,600,700,800,900,2000],"labels":false,"ticks":false,"domain":false,"grid":true,"gridColor":"#d8d8d8","title":null}}}},
  {"transform":[{"filter":"datum.q==1"}],"mark":{"type":"point","shape":"square","filled":false,"size":160,"strokeWidth":1.5}},
  {"transform":[{"filter":"datum.q==2"}],"mark":{"type":"point","shape":"M0,-1L0.65,0L0,1L-0.65,0Z","filled":false,"size":200,"strokeWidth":1.5}},
  {"transform":[{"filter":"datum.q==3"}],"mark":{"type":"point","shape":"circle","filled":false,"size":220,"strokeWidth":1.5}}
 ]},
{"width":284,"height":229,
 "data":{"name":"main"},"transform":[{"filter":"datum.d==2 && datum.m=='a'"}],
 "encoding":{"x":{"field":"N","type":"quantitative","scale":{"type":"log","domain":[1000,5000000],"nice":false},"axis":{"values":[1000,5000,10000,50000,100000,500000,1000000,5000000],"labelExpr":"datum.value == 5000000 ? '5·10⁶' : datum.value == 1000 ? '10³' : datum.value == 10000 ? '10⁴' : datum.value == 100000 ? '10⁵' : datum.value == 1000000 ? '10⁶' : ''","grid":true,"labelOverlap":false,"labelFlush":false,"labelPadding":6,"title":null}},
  "y":{"field":"v","type":"quantitative","scale":{"type":"log","domain":[9.1,300],"nice":false},"axis":null},
  "color":{"field":"q","type":"nominal","scale":{"domain":[0,1,2,3,4]}}},
 "layer":[
  {"transform":[{"filter":"datum.q<4"}],"mark":{"type":"line","strokeWidth":1.5},
   "encoding":{"y":{"field":"v","type":"quantitative","scale":{"type":"log","domain":[9.1,300],"nice":false},"axis":{"orient":"left","values":[10,100],"labelExpr":"'10' + ['⁻⁹','⁻⁸','⁻⁷','⁻⁶','⁻⁵','⁻⁴','⁻³','⁻²','⁻¹','⁰','¹','²','³','⁴','⁵'][round(log(datum.value)/LN10)+9]","grid":true,"gridColor":"#a8a8a8","labelPadding":7,"title":"d = 2"}}}},
  {"transform":[{"filter":"datum.q==0"}],"mark":{"type":"point","shape":"triangle-up","filled":false,"size":130,"strokeWidth":1.5},
   "encoding":{"y":{"field":"v","type":"quantitative","scale":{"type":"log","domain":[9.1,300],"nice":false},"axis":{"orient":"right","values":[20,30,40,50,60,70,80,90,200,300],"labels":false,"ticks":false,"domain":false,"grid":true,"gridColor":"#d8d8d8","title":null}}}},
  {"transform":[{"filter":"datum.q==1"}],"mark":{"type":"point","shape":"square","filled":false,"size":160,"strokeWidth":1.5}},
  {"transform":[{"filter":"datum.q==2"}],"mark":{"type":"point","shape":"M0,-1L0.65,0L0,1L-0.65,0Z","filled":false,"size":200,"strokeWidth":1.5}},
  {"transform":[{"filter":"datum.q==3"}],"mark":{"type":"point","shape":"circle","filled":false,"size":220,"strokeWidth":1.5}}
 ]},
{"width":284,"height":229,
 "data":{"name":"main"},"transform":[{"filter":"datum.d==2 && datum.m=='e'"}],
 "encoding":{"x":{"field":"N","type":"quantitative","scale":{"type":"log","domain":[1000,5000000],"nice":false},"axis":{"values":[1000,5000,10000,50000,100000,500000,1000000,5000000],"labelExpr":"datum.value == 5000000 ? '5·10⁶' : datum.value == 1000 ? '10³' : datum.value == 10000 ? '10⁴' : datum.value == 100000 ? '10⁵' : datum.value == 1000000 ? '10⁶' : ''","grid":true,"labelOverlap":false,"labelFlush":false,"labelPadding":6,"title":null}},
  "y":{"field":"v","type":"quantitative","scale":{"type":"log","domain":[1e-6,0.0216],"nice":false},"axis":null},
  "color":{"field":"q","type":"nominal","scale":{"domain":[0,1,2,3,4]}}},
 "layer":[
  {"transform":[{"filter":"datum.q<4"}],"mark":{"type":"line","strokeWidth":1.5},
   "encoding":{"y":{"field":"v","type":"quantitative","scale":{"type":"log","domain":[1e-6,0.0216],"nice":false},"axis":{"orient":"left","values":[1e-6,1e-5,1e-4,1e-3,1e-2],"labelExpr":"'10' + ['⁻⁹','⁻⁸','⁻⁷','⁻⁶','⁻⁵','⁻⁴','⁻³','⁻²','⁻¹','⁰','¹','²','³','⁴','⁵'][round(log(datum.value)/LN10)+9]","grid":true,"gridColor":"#a8a8a8","labelPadding":7,"title":null}}}},
  {"transform":[{"filter":"datum.q==0"}],"mark":{"type":"point","shape":"triangle-up","filled":false,"size":130,"strokeWidth":1.5},
   "encoding":{"y":{"field":"v","type":"quantitative","scale":{"type":"log","domain":[1e-6,0.0216],"nice":false},"axis":{"orient":"right","values":[2e-6,3e-6,4e-6,5e-6,6e-6,7e-6,8e-6,9e-6,2e-5,3e-5,4e-5,5e-5,6e-5,7e-5,8e-5,9e-5,2e-4,3e-4,4e-4,5e-4,6e-4,7e-4,8e-4,9e-4,2e-3,3e-3,4e-3,5e-3,6e-3,7e-3,8e-3,9e-3,2e-2],"labels":false,"ticks":false,"domain":false,"grid":true,"gridColor":"#d8d8d8","title":null}}}},
  {"transform":[{"filter":"datum.q==1"}],"mark":{"type":"point","shape":"square","filled":false,"size":160,"strokeWidth":1.5}},
  {"transform":[{"filter":"datum.q==2"}],"mark":{"type":"point","shape":"M0,-1L0.65,0L0,1L-0.65,0Z","filled":false,"size":200,"strokeWidth":1.5}},
  {"transform":[{"filter":"datum.q==3"}],"mark":{"type":"point","shape":"circle","filled":false,"size":220,"strokeWidth":1.5}}
 ]},
{"width":284,"height":229,
 "data":{"name":"main"},"transform":[{"filter":"datum.d==2 && datum.m=='t'"}],
 "encoding":{"x":{"field":"N","type":"quantitative","scale":{"type":"log","domain":[1000,5000000],"nice":false},"axis":{"values":[1000,5000,10000,50000,100000,500000,1000000,5000000],"labelExpr":"datum.value == 5000000 ? '5·10⁶' : datum.value == 1000 ? '10³' : datum.value == 10000 ? '10⁴' : datum.value == 100000 ? '10⁵' : datum.value == 1000000 ? '10⁶' : ''","grid":true,"labelOverlap":false,"labelFlush":false,"labelPadding":6,"title":null}},
  "y":{"field":"v","type":"quantitative","scale":{"type":"log","domain":[0.054,19600],"nice":false},"axis":null},
  "color":{"field":"q","type":"nominal","scale":{"domain":[0,1,2,3,4]}}},
 "layer":[
  {"transform":[{"filter":"datum.q==4"}],"mark":{"type":"line","strokeWidth":1.4,"strokeDash":[6,4],"clip":true},"encoding":{"detail":{"field":"a","type":"nominal"},"color":{"value":"black"}}},
  {"transform":[{"filter":"datum.q<4"}],"mark":{"type":"line","strokeWidth":1.5},
   "encoding":{"y":{"field":"v","type":"quantitative","scale":{"type":"log","domain":[0.054,19600],"nice":false},"axis":{"orient":"left","values":[0.1,1,10,100,1000,10000],"labelExpr":"'10' + ['⁻⁹','⁻⁸','⁻⁷','⁻⁶','⁻⁵','⁻⁴','⁻³','⁻²','⁻¹','⁰','¹','²','³','⁴','⁵'][round(log(datum.value)/LN10)+9]","grid":true,"gridColor":"#a8a8a8","labelPadding":7,"title":null}}}},
  {"transform":[{"filter":"datum.q==0"}],"mark":{"type":"point","shape":"triangle-up","filled":false,"size":130,"strokeWidth":1.5},
   "encoding":{"y":{"field":"v","type":"quantitative","scale":{"type":"log","domain":[0.054,19600],"nice":false},"axis":{"orient":"right","values":[0.06,0.07,0.08,0.09,0.2,0.3,0.4,0.5,0.6,0.7,0.8,0.9,2,3,4,5,6,7,8,9,20,30,40,50,60,70,80,90,200,300,400,500,600,700,800,900,2000,3000,4000,5000,6000,7000,8000,9000],"labels":false,"ticks":false,"domain":false,"grid":true,"gridColor":"#d8d8d8","title":null}}}},
  {"transform":[{"filter":"datum.q==1"}],"mark":{"type":"point","shape":"square","filled":false,"size":160,"strokeWidth":1.5}},
  {"transform":[{"filter":"datum.q==2"}],"mark":{"type":"point","shape":"M0,-1L0.65,0L0,1L-0.65,0Z","filled":false,"size":200,"strokeWidth":1.5}},
  {"transform":[{"filter":"datum.q==3"}],"mark":{"type":"point","shape":"circle","filled":false,"size":220,"strokeWidth":1.5}}
 ]},
{"width":284,"height":229,
 "data":{"name":"main"},"transform":[{"filter":"datum.d==3 && datum.m=='a'"}],
 "encoding":{"x":{"field":"N","type":"quantitative","scale":{"type":"log","domain":[1000,5000000],"nice":false},"axis":{"values":[1000,5000,10000,50000,100000,500000,1000000,5000000],"labelExpr":"datum.value == 5000000 ? '5·10⁶' : datum.value == 1000 ? '10³' : datum.value == 10000 ? '10⁴' : datum.value == 100000 ? '10⁵' : datum.value == 1000000 ? '10⁶' : ''","grid":true,"labelOverlap":false,"labelFlush":false,"labelPadding":6,"title":null}},
  "y":{"field":"v","type":"quantitative","scale":{"type":"log","domain":[39.5,2070],"nice":false},"axis":null},
  "color":{"field":"q","type":"nominal","scale":{"domain":[0,1,2,3,4]}}},
 "layer":[
  {"transform":[{"filter":"datum.q<4"}],"mark":{"type":"line","strokeWidth":1.5},
   "encoding":{"y":{"field":"v","type":"quantitative","scale":{"type":"log","domain":[39.5,2070],"nice":false},"axis":{"orient":"left","values":[100,1000],"labelExpr":"'10' + ['⁻⁹','⁻⁸','⁻⁷','⁻⁶','⁻⁵','⁻⁴','⁻³','⁻²','⁻¹','⁰','¹','²','³','⁴','⁵'][round(log(datum.value)/LN10)+9]","grid":true,"gridColor":"#a8a8a8","labelPadding":7,"title":"d = 3"}}}},
  {"transform":[{"filter":"datum.q==0"}],"mark":{"type":"point","shape":"triangle-up","filled":false,"size":130,"strokeWidth":1.5},
   "encoding":{"y":{"field":"v","type":"quantitative","scale":{"type":"log","domain":[39.5,2070],"nice":false},"axis":{"orient":"right","values":[40,50,60,70,80,90,200,300,400,500,600,700,800,900,2000],"labels":false,"ticks":false,"domain":false,"grid":true,"gridColor":"#d8d8d8","title":null}}}},
  {"transform":[{"filter":"datum.q==1"}],"mark":{"type":"point","shape":"square","filled":false,"size":160,"strokeWidth":1.5}},
  {"transform":[{"filter":"datum.q==2"}],"mark":{"type":"point","shape":"M0,-1L0.65,0L0,1L-0.65,0Z","filled":false,"size":200,"strokeWidth":1.5}},
  {"transform":[{"filter":"datum.q==3"}],"mark":{"type":"point","shape":"circle","filled":false,"size":220,"strokeWidth":1.5}}
 ]},
{"width":284,"height":229,
 "data":{"name":"main"},"transform":[{"filter":"datum.d==3 && datum.m=='e'"}],
 "encoding":{"x":{"field":"N","type":"quantitative","scale":{"type":"log","domain":[1000,5000000],"nice":false},"axis":{"values":[1000,5000,10000,50000,100000,500000,1000000,5000000],"labelExpr":"datum.value == 5000000 ? '5·10⁶' : datum.value == 1000 ? '10³' : datum.value == 10000 ? '10⁴' : datum.value == 100000 ? '10⁵' : datum.value == 1000000 ? '10⁶' : ''","grid":true,"labelOverlap":false,"labelFlush":false,"labelPadding":6,"title":null}},
  "y":{"field":"v","type":"quantitative","scale":{"type":"log","domain":[1e-6,0.02],"nice":false},"axis":null},
  "color":{"field":"q","type":"nominal","scale":{"domain":[0,1,2,3,4]}}},
 "layer":[
  {"transform":[{"filter":"datum.q<4"}],"mark":{"type":"line","strokeWidth":1.5},
   "encoding":{"y":{"field":"v","type":"quantitative","scale":{"type":"log","domain":[1e-6,0.02],"nice":false},"axis":{"orient":"left","values":[1e-6,1e-5,1e-4,1e-3,1e-2],"labelExpr":"'10' + ['⁻⁹','⁻⁸','⁻⁷','⁻⁶','⁻⁵','⁻⁴','⁻³','⁻²','⁻¹','⁰','¹','²','³','⁴','⁵'][round(log(datum.value)/LN10)+9]","grid":true,"gridColor":"#a8a8a8","labelPadding":7,"title":null}}}},
  {"transform":[{"filter":"datum.q==0"}],"mark":{"type":"point","shape":"triangle-up","filled":false,"size":130,"strokeWidth":1.5},
   "encoding":{"y":{"field":"v","type":"quantitative","scale":{"type":"log","domain":[1e-6,0.02],"nice":false},"axis":{"orient":"right","values":[2e-6,3e-6,4e-6,5e-6,6e-6,7e-6,8e-6,9e-6,2e-5,3e-5,4e-5,5e-5,6e-5,7e-5,8e-5,9e-5,2e-4,3e-4,4e-4,5e-4,6e-4,7e-4,8e-4,9e-4,2e-3,3e-3,4e-3,5e-3,6e-3,7e-3,8e-3,9e-3,2e-2],"labels":false,"ticks":false,"domain":false,"grid":true,"gridColor":"#d8d8d8","title":null}}}},
  {"transform":[{"filter":"datum.q==1"}],"mark":{"type":"point","shape":"square","filled":false,"size":160,"strokeWidth":1.5}},
  {"transform":[{"filter":"datum.q==2"}],"mark":{"type":"point","shape":"M0,-1L0.65,0L0,1L-0.65,0Z","filled":false,"size":200,"strokeWidth":1.5}},
  {"transform":[{"filter":"datum.q==3"}],"mark":{"type":"point","shape":"circle","filled":false,"size":220,"strokeWidth":1.5}}
 ]},
{"width":284,"height":229,
 "data":{"name":"main"},"transform":[{"filter":"datum.d==3 && datum.m=='t'"}],
 "encoding":{"x":{"field":"N","type":"quantitative","scale":{"type":"log","domain":[1000,5000000],"nice":false},"axis":{"values":[1000,5000,10000,50000,100000,500000,1000000,5000000],"labelExpr":"datum.value == 5000000 ? '5·10⁶' : datum.value == 1000 ? '10³' : datum.value == 10000 ? '10⁴' : datum.value == 100000 ? '10⁵' : datum.value == 1000000 ? '10⁶' : ''","grid":true,"labelOverlap":false,"labelFlush":false,"labelPadding":6,"title":null}},
  "y":{"field":"v","type":"quantitative","scale":{"type":"log","domain":[0.1,245000],"nice":false},"axis":null},
  "color":{"field":"q","type":"nominal","scale":{"domain":[0,1,2,3,4]}}},
 "layer":[
  {"transform":[{"filter":"datum.q==4"}],"mark":{"type":"line","strokeWidth":1.4,"strokeDash":[6,4],"clip":true},"encoding":{"detail":{"field":"a","type":"nominal"},"color":{"value":"black"}}},
  {"transform":[{"filter":"datum.q<4"}],"mark":{"type":"line","strokeWidth":1.5},
   "encoding":{"y":{"field":"v","type":"quantitative","scale":{"type":"log","domain":[0.1,245000],"nice":false},"axis":{"orient":"left","values":[0.1,1,10,100,1000,10000,100000],"labelExpr":"'10' + ['⁻⁹','⁻⁸','⁻⁷','⁻⁶','⁻⁵','⁻⁴','⁻³','⁻²','⁻¹','⁰','¹','²','³','⁴','⁵'][round(log(datum.value)/LN10)+9]","grid":true,"gridColor":"#a8a8a8","labelPadding":7,"title":null}}}},
  {"transform":[{"filter":"datum.q==0"}],"mark":{"type":"point","shape":"triangle-up","filled":false,"size":130,"strokeWidth":1.5},
   "encoding":{"y":{"field":"v","type":"quantitative","scale":{"type":"log","domain":[0.1,245000],"nice":false},"axis":{"orient":"right","values":[0.2,0.3,0.4,0.5,0.6,0.7,0.8,0.9,2,3,4,5,6,7,8,9,20,30,40,50,60,70,80,90,200,300,400,500,600,700,800,900,2000,3000,4000,5000,6000,7000,8000,9000,20000,30000,40000,50000,60000,70000,80000,90000,200000],"labels":false,"ticks":false,"domain":false,"grid":true,"gridColor":"#d8d8d8","title":null}}}},
  {"transform":[{"filter":"datum.q==1"}],"mark":{"type":"point","shape":"square","filled":false,"size":160,"strokeWidth":1.5}},
  {"transform":[{"filter":"datum.q==2"}],"mark":{"type":"point","shape":"M0,-1L0.65,0L0,1L-0.65,0Z","filled":false,"size":200,"strokeWidth":1.5}},
  {"transform":[{"filter":"datum.q==3"}],"mark":{"type":"point","shape":"circle","filled":false,"size":220,"strokeWidth":1.5}}
 ]}
],
"config":{
 "view":{"stroke":"black","strokeWidth":1},
 "range":{"category":["#0000ff","#009900","#e6007e","#bf8040","#000000"]},
 "axis":{"labelFont":"Liberation Serif","labelFontSize":20,"labelColor":"black","domain":false,"ticks":false,"gridColor":"#c8c8c8","gridWidth":1,"titleFont":"DejaVu Serif","titleFontSize":23,"titleFontStyle":"italic","titleFontWeight":"normal","titleColor":"black","titlePadding":20},
 "title":{"font":"DejaVu Serif","fontSize":22,"fontWeight":"normal","color":"black","offset":25}
}
}
